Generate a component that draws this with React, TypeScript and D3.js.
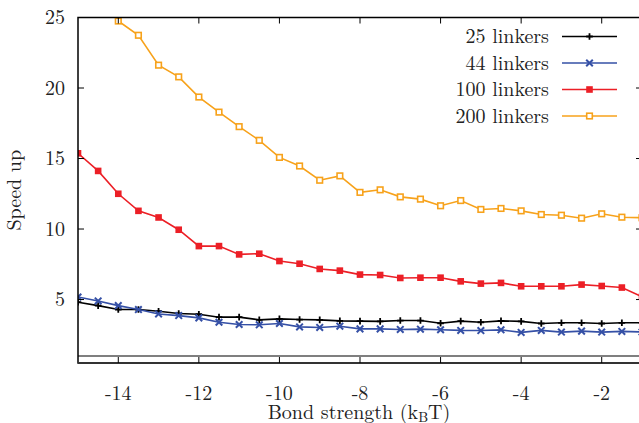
import * as d3 from "d3";

const bondStrength = [
  -15, -14.5, -14, -13.5, -13, -12.5, -12, -11.5, -11, -10.5, -10, -9.5, -9, -8.5, -8,
  -7.5, -7, -6.5, -6, -5.5, -5, -4.5, -4, -3.5, -3, -2.5, -2, -1.5, -1,
];

const linkers25 = [
  4.81, 4.57, 4.29, 4.29, 4.17, 4.01, 3.96, 3.75, 3.75, 3.56, 3.63, 3.58, 3.56, 3.49, 3.47,
  3.45, 3.51, 3.51, 3.32, 3.47, 3.39, 3.49, 3.45, 3.3, 3.35, 3.35, 3.3, 3.35, 3.35,
];
const linkers44 = [
  5.18, 4.9, 4.57, 4.29, 3.98, 3.86, 3.7, 3.39, 3.23, 3.21, 3.3, 3.06, 3.02, 3.11, 2.92,
  2.92, 2.88, 2.9, 2.86, 2.81, 2.8, 2.85, 2.67, 2.81, 2.69, 2.76, 2.69, 2.74, 2.7,
];
const linkers100 = [
  15.37, 14.12, 12.5, 11.29, 10.82, 9.95, 8.79, 8.79, 8.2, 8.25, 7.73, 7.54, 7.17, 7.05, 6.77,
  6.74, 6.53, 6.55, 6.55, 6.29, 6.13, 6.18, 5.94, 5.94, 5.94, 6.06, 5.96, 5.85, 5.2,
];
// 200 linkers starts at -14 (first two values off the top of the axis)
const linkers200 = [
  null, null, 24.75, 23.74, 21.62, 20.79, 19.36, 18.29, 17.26, 16.29, 15.08, 14.47, 13.46, 13.77, 12.6,
  12.78, 12.28, 12.12, 11.65, 12.02, 11.39, 11.46, 11.29, 11.03, 10.98, 10.77, 11.08, 10.84, 10.8,
];

const xTicks = [-14, -12, -10, -8, -6, -4, -2];
const yTicks = [5, 10, 15, 20, 25];

const seriesNames = ["25 linkers", "44 linkers", "100 linkers", "200 linkers"];
const seriesValues = [linkers25, linkers44, linkers100, linkers200];
const seriesColors = ["#000000", "#3550a6", "#ec1f26", "#f7a21b"];
const seriesMarkers = ["plus", "cross", "fillsq", "opensq"];

const W = 639;
const H = 423;
const left = 78;
const right = 642;
const top = 17.5;
const bottom = 363;
const FONT = '"Latin Modern Roman", "Liberation Serif", serif';
const FS = 20;

function Marker({ kind, x, y, color }: { kind: string; x: number; y: number; color: string }) {
  const s = 3.3;
  if (kind === "plus")
    return (
      <path d={`M${x - s},${y}H${x + s}M${x},${y - s}V${y + s}`} stroke={color} strokeWidth={1.8} />
    );
  if (kind === "cross")
    return (
      <path
        d={`M${x - s},${y - s}L${x + s},${y + s}M${x - s},${y + s}L${x + s},${y - s}`}
        stroke={color}
        strokeWidth={2}
      />
    );
  if (kind === "fillsq")
    return <rect x={x - s} y={y - s} width={2 * s} height={2 * s} fill={color} />;
  return (
    <rect x={x - 2.8} y={y - 2.8} width={5.6} height={5.6} fill="white" stroke={color} strokeWidth={1.6} />
  );
}

export default function App() {
  const x = d3.scaleLinear().domain([-15, -1]).range([left, right]);
  const y = d3.scaleLinear().domain([0.5, 25]).range([bottom, top]);
  const line = d3
    .line<[number, number | null]>()
    .defined((d) => d[1] !== null)
    .x((d) => x(d[0]))
    .y((d) => y(d[1] as number));

  const tick = 6;
  const legendY = [36.5, 63, 89.5, 116];
  const txt = { fontFamily: FONT, fontSize: FS, fill: "#222" };

  return (
    <div style={{ position: "absolute", left: 0, top: 0 }}>
      <svg width={W} height={H} style={{ display: "block", background: "white" }}>
        <defs>
          <clipPath id="plot">
            <rect x={left} y={top - 4} width={right - left} height={bottom - top + 4} />
          </clipPath>
        </defs>

        {/* baseline at speed up = 1 */}
        <line x1={left} x2={right} y1={y(1)} y2={y(1)} stroke="#555" strokeWidth={1.6} />

        <g clipPath="url(#plot)">
          {seriesValues.map((vals, i) => {
            const pts = bondStrength.map((b, j) => [b, vals[j]] as [number, number | null]);
            return (
              <g key={seriesNames[i]}>
                <path d={line(pts) || ""} fill="none" stroke={seriesColors[i]} strokeWidth={1.6} />
                {pts
                  .filter((p) => p[1] !== null)
                  .map((p, j) => (
                    <Marker key={j} kind={seriesMarkers[i]} x={x(p[0])} y={y(p[1] as number)} color={seriesColors[i]} />
                  ))}
              </g>
            );
          })}
        </g>

        {/* frame */}
        <rect x={left} y={top} width={right - left} height={bottom - top} fill="none" stroke="#000" strokeWidth={1.5} />
        <line x1={left} x2={right} y1={bottom} y2={bottom} stroke="#333" strokeWidth={2.2} />

        {xTicks.map((t) => (
          <g key={t}>
            <line x1={x(t)} x2={x(t)} y1={bottom} y2={bottom - tick} stroke="#000" strokeWidth={1} />
            <line x1={x(t)} x2={x(t)} y1={top} y2={top + tick} stroke="#000" strokeWidth={1} />
            <text x={x(t)} y={399.5} textAnchor="middle" style={txt}>
              {t}
            </text>
          </g>
        ))}
        {yTicks.map((t) => (
          <g key={t}>
            <line x1={left} x2={left + tick} y1={y(t)} y2={y(t)} stroke="#000" strokeWidth={1} />
            <line x1={right} x2={right - tick} y1={y(t)} y2={y(t)} stroke="#000" strokeWidth={1} />
            <text x={65} y={y(t) + 6.5} textAnchor="end" style={txt}>
              {t}
            </text>
          </g>
        ))}

        <text
          transform={`translate(21,${(top + bottom) / 2}) rotate(-90)`}
          textAnchor="middle"
          style={txt}
        >
          Speed up
        </text>
        <text x={359} y={419} textAnchor="middle" style={txt}>
          Bond strength (k
          <tspan fontSize={14} dy={3}>B</tspan>
          <tspan dy={-3}>T)</tspan>
        </text>

        {seriesNames.map((name, i) => (
          <g key={name}>
            <text x={549} y={legendY[i] + 6.5} textAnchor="end" style={txt}>
              {name}
            </text>
            <line x1={562} x2={617} y1={legendY[i]} y2={legendY[i]} stroke={seriesColors[i]} strokeWidth={1.6} />
            <Marker kind={seriesMarkers[i]} x={589.5} y={legendY[i]} color={seriesColors[i]} />
          </g>
        ))}
      </svg>
    </div>
  );
}
